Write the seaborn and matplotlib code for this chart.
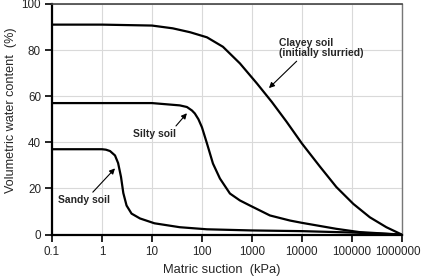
import matplotlib

matplotlib.use("Agg")
import matplotlib.pyplot as plt
import pandas
import seaborn as sns
from matplotlib.ticker import FixedLocator, FuncFormatter, NullLocator
from matplotlib.transforms import ScaledTranslation
from pandas import DataFrame

# Matric suction (kPa) and volumetric water content (%)
clayey_suction: list[float] = [0.1, 1, 10, 26, 58, 126, 263, 575, 1260, 2500,
                               4900, 10000, 22900, 49000, 107000, 229000,
                               490000, 1000000]
clayey_water: list[float] = [91, 91, 90.6, 89.4, 87.7, 85.5, 81.4, 74.2, 65.5,
                             57.5, 49, 39.5, 29.5, 20.6, 13.3, 7.5, 3.2, 0]

silty_suction: list[float] = [0.1, 1, 10, 36, 50, 63, 72, 85, 100, 126, 166,
                              229, 363, 575, 912, 2290, 5750, 10000, 49000,
                              140000, 1000000]
silty_water: list[float] = [57, 57, 57, 56, 55.3, 53.8, 52.5, 50, 46.5, 39.5,
                            30.8, 24.3, 17.8, 14.8, 12.6, 8.3, 6.1, 5.1, 2.5,
                            1.1, 0]

sandy_suction: list[float] = [0.1, 1, 1.2, 1.45, 1.82, 2.1, 2.4, 2.67, 3.1,
                              3.9, 5.75, 11.2, 36, 126, 1000, 10000, 100000,
                              1000000]
sandy_water: list[float] = [37, 37, 36.8, 36.2, 34.3, 31, 25, 18, 12.6, 9.1,
                            7, 4.9, 3.2, 2.3, 1.8, 1.5, 0.9, 0]

x_ticks: list[float] = [0.1, 1, 10, 100, 1000, 10000, 100000, 1000000]
x_tick_labels: list[str] = ["0.1", "1", "10", "100", "1000", "10000",
                            "100000", "1000000"]
y_ticks: list[int] = [0, 20, 40, 60, 80, 100]


def build_frame() -> DataFrame:
    parts: list[DataFrame] = []
    for name, xs, ys in [
        ("Clayey", clayey_suction, clayey_water),
        ("Silty", silty_suction, silty_water),
        ("Sandy", sandy_suction, sandy_water),
    ]:
        parts.append(DataFrame({"suction": xs, "water": ys, "soil": name}))
    return pandas.concat(parts, ignore_index=True)


def plot(df: DataFrame) -> None:
    sns.set_style("white")
    plt.rcParams["font.family"] = ["Liberation Sans", "DejaVu Sans"]

    fig = plt.figure(figsize=(4.23, 2.76), dpi=100)
    ax = fig.add_axes([0.123, 0.150, 0.827, 0.836])

    sns.lineplot(
        data=df, x="suction", y="water", units="soil", estimator=None,
        sort=False, color="black", linewidth=1.6, ax=ax,
    )

    ax.set_xscale("log")
    ax.set_xlim(0.1, 1000000)
    ax.set_ylim(0, 100)
    ax.xaxis.set_major_locator(FixedLocator(x_ticks))
    ax.xaxis.set_major_formatter(
        FuncFormatter(lambda v, p: x_tick_labels[p] if p is not None else "")
    )
    ax.xaxis.set_minor_locator(NullLocator())
    ax.set_yticks(y_ticks)

    ax.grid(True, color="#d9d9d9", linewidth=0.8)
    ax.set_axisbelow(True)
    for side in ["left", "bottom"]:
        ax.spines[side].set_color("black")
        ax.spines[side].set_linewidth(1.6)
    ax.spines["top"].set_color("#444444")
    ax.spines["top"].set_linewidth(1.2)
    ax.spines["right"].set_color("#777777")
    ax.spines["right"].set_linewidth(1.0)
    ax.tick_params(axis="both", direction="out", length=5, width=1.2,
                   color="black", labelsize=8.4, pad=3, bottom=True, left=True)

    ax.set_xlabel("Matric suction  (kPa)", fontsize=9.3, va="center")
    ax.xaxis.set_label_coords(0.486, -0.152)
    ax.set_ylabel("Volumetric water content  (%)", fontsize=9.1,
                  va="center", ha="center")
    ax.yaxis.set_label_coords(-0.117, 0.54)

    arrow = dict(arrowstyle="-|>", color="black", lw=0.8,
                 mutation_scale=8, shrinkA=0, shrinkB=0)
    ax.annotate("Clayey soil\n(initially slurried)", xy=(2190, 63.5),
                xytext=(3470, 81), fontsize=7.5, fontweight="bold",
                ha="left", va="center", linespacing=1.05,
                arrowprops=dict(arrow, relpos=(0.25, 0)))
    ax.annotate("Silty soil", xy=(50, 52.6), xytext=(4.2, 43.5),
                fontsize=7.5, fontweight="bold", ha="left", va="center",
                arrowprops=dict(arrow, relpos=(0.93, 1)))
    ax.annotate("Sandy soil", xy=(1.82, 28.7), xytext=(0.132, 14.8),
                fontsize=7.5, fontweight="bold", ha="left", va="center",
                arrowprops=dict(arrow, relpos=(0.61, 1)))

    # Keep the last tick label inside the canvas
    fig.canvas.draw()
    last = ax.xaxis.get_major_ticks()[-1].label1
    last.set_transform(last.get_transform()
                       + ScaledTranslation(-3 / 72, 0, fig.dpi_scale_trans))

    fig.savefig("out.png", dpi=100)
    plt.close(fig)


def main() -> None:
    plot(df=build_frame())


if __name__ == "__main__":
    main()
